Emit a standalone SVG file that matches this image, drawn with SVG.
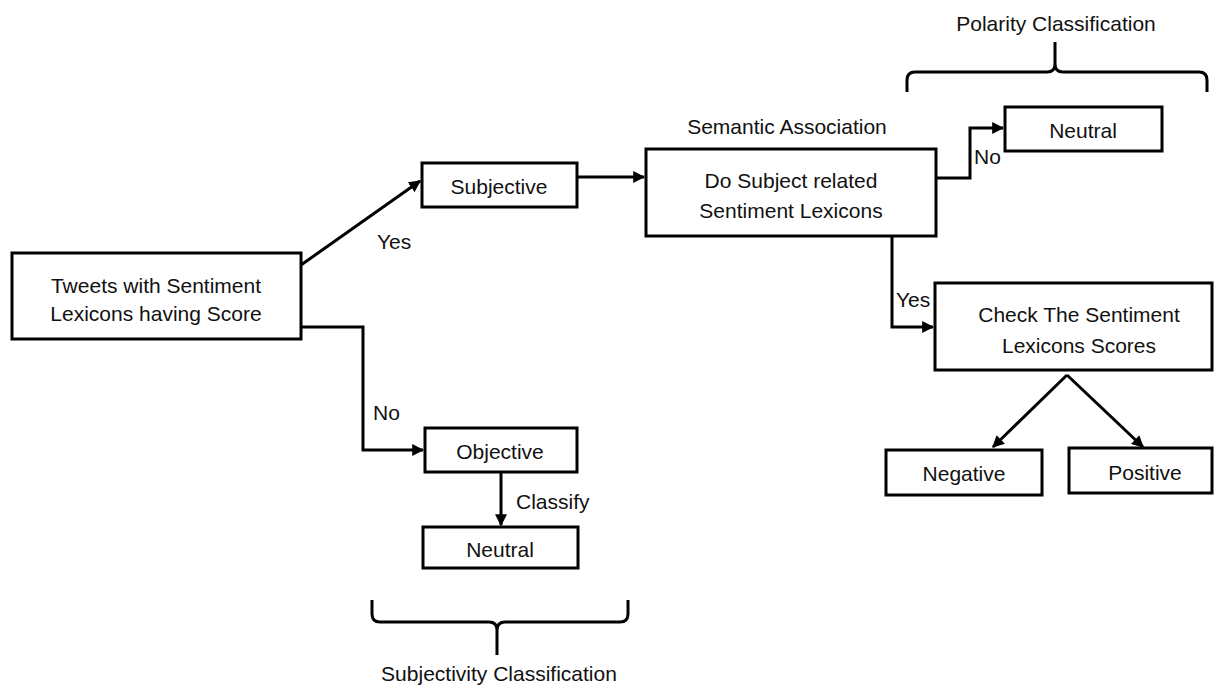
<svg xmlns="http://www.w3.org/2000/svg" width="1215" height="686" viewBox="0 0 1215 686">
<style>
.box{fill:#fff;stroke:#000;stroke-width:3}
.ln{fill:none;stroke:#000;stroke-width:3}
.t{font-family:"Liberation Sans",Arial,sans-serif;font-size:21px;fill:#111;text-anchor:middle}
.l{font-family:"Liberation Sans",Arial,sans-serif;font-size:21px;fill:#111}
</style>
<defs>
<marker id="ah" viewBox="0 0 10 10" refX="9" refY="5" markerWidth="4" markerHeight="4" orient="auto" markerUnits="strokeWidth">
<path d="M0,0 L10,5 L0,10 z" fill="#000"/>
</marker>
</defs>
<rect width="1215" height="686" fill="#fff"/>
<g id="connectors">
<line class="ln" x1="301" y1="265" x2="420" y2="181" marker-end="url(#ah)"/>
<line class="ln" x1="577" y1="177" x2="644" y2="177" marker-end="url(#ah)"/>
<polyline class="ln" points="936,178 970,178 970,128 1003,128" marker-end="url(#ah)"/>
<polyline class="ln" points="892,236 892,327 933,327" marker-end="url(#ah)"/>
<line class="ln" x1="1067" y1="375" x2="993" y2="447" marker-end="url(#ah)"/>
<line class="ln" x1="1067" y1="375" x2="1143" y2="447" marker-end="url(#ah)"/>
<polyline class="ln" points="301,327 363,327 363,450 423,450" marker-end="url(#ah)"/>
<line class="ln" x1="501" y1="472" x2="501" y2="525" marker-end="url(#ah)"/>
<text class="l" x="377" y="249">Yes</text>
<text class="l" x="974" y="164">No</text>
<text class="l" x="896" y="307">Yes</text>
<text class="l" x="373" y="420">No</text>
<text class="l" x="516" y="509">Classify</text>
</g>
<g id="tweets">
<rect class="box" x="12" y="253" width="289" height="86"/>
<text class="t" x="156" y="293">Tweets with Sentiment</text>
<text class="t" x="156" y="321">Lexicons having Score</text>
</g>
<g id="subjective">
<rect class="box" x="422" y="163" width="155" height="44"/>
<text class="t" x="499" y="194">Subjective</text>
</g>
<g id="semantic">
<text class="t" x="787" y="134">Semantic Association</text>
<rect class="box" x="646" y="149" width="290" height="87"/>
<text class="t" x="791" y="188">Do Subject related</text>
<text class="t" x="791" y="218">Sentiment Lexicons</text>
</g>
<g id="neutral-polarity">
<rect class="box" x="1005" y="107" width="157" height="44"/>
<text class="t" x="1083" y="138">Neutral</text>
</g>
<g id="check">
<rect class="box" x="935" y="283" width="277" height="87"/>
<text class="t" x="1079" y="322">Check The Sentiment</text>
<text class="t" x="1079" y="353">Lexicons Scores</text>
</g>
<g id="negative">
<rect class="box" x="886" y="450" width="156" height="45"/>
<text class="t" x="964" y="481">Negative</text>
</g>
<g id="positive">
<rect class="box" x="1069" y="448" width="143" height="45"/>
<text class="t" x="1145" y="480">Positive</text>
</g>
<g id="objective">
<rect class="box" x="425" y="428" width="152" height="44"/>
<text class="t" x="500" y="459">Objective</text>
</g>
<g id="neutral-subjectivity">
<rect class="box" x="423" y="527" width="155" height="41"/>
<text class="t" x="500" y="557">Neutral</text>
</g>
<g id="polarity-brace">
<path class="ln" d="M907,92 L907,80 Q907,72 915,72 L1047,72 Q1055,72 1055,64 L1055,42 M1055,64 Q1055,72 1063,72 L1199,72 Q1207,72 1207,80 L1207,92"/>
<text class="t" x="1056" y="31">Polarity Classification</text>
</g>
<g id="subjectivity-brace">
<path class="ln" d="M372,600 L372,614 Q372,622 380,622 L489,622 Q497,622 497,630 L497,655 M497,630 Q497,622 505,622 L620,622 Q628,622 628,614 L628,600"/>
<text class="t" x="499" y="681">Subjectivity Classification</text>
</g>
</svg>
